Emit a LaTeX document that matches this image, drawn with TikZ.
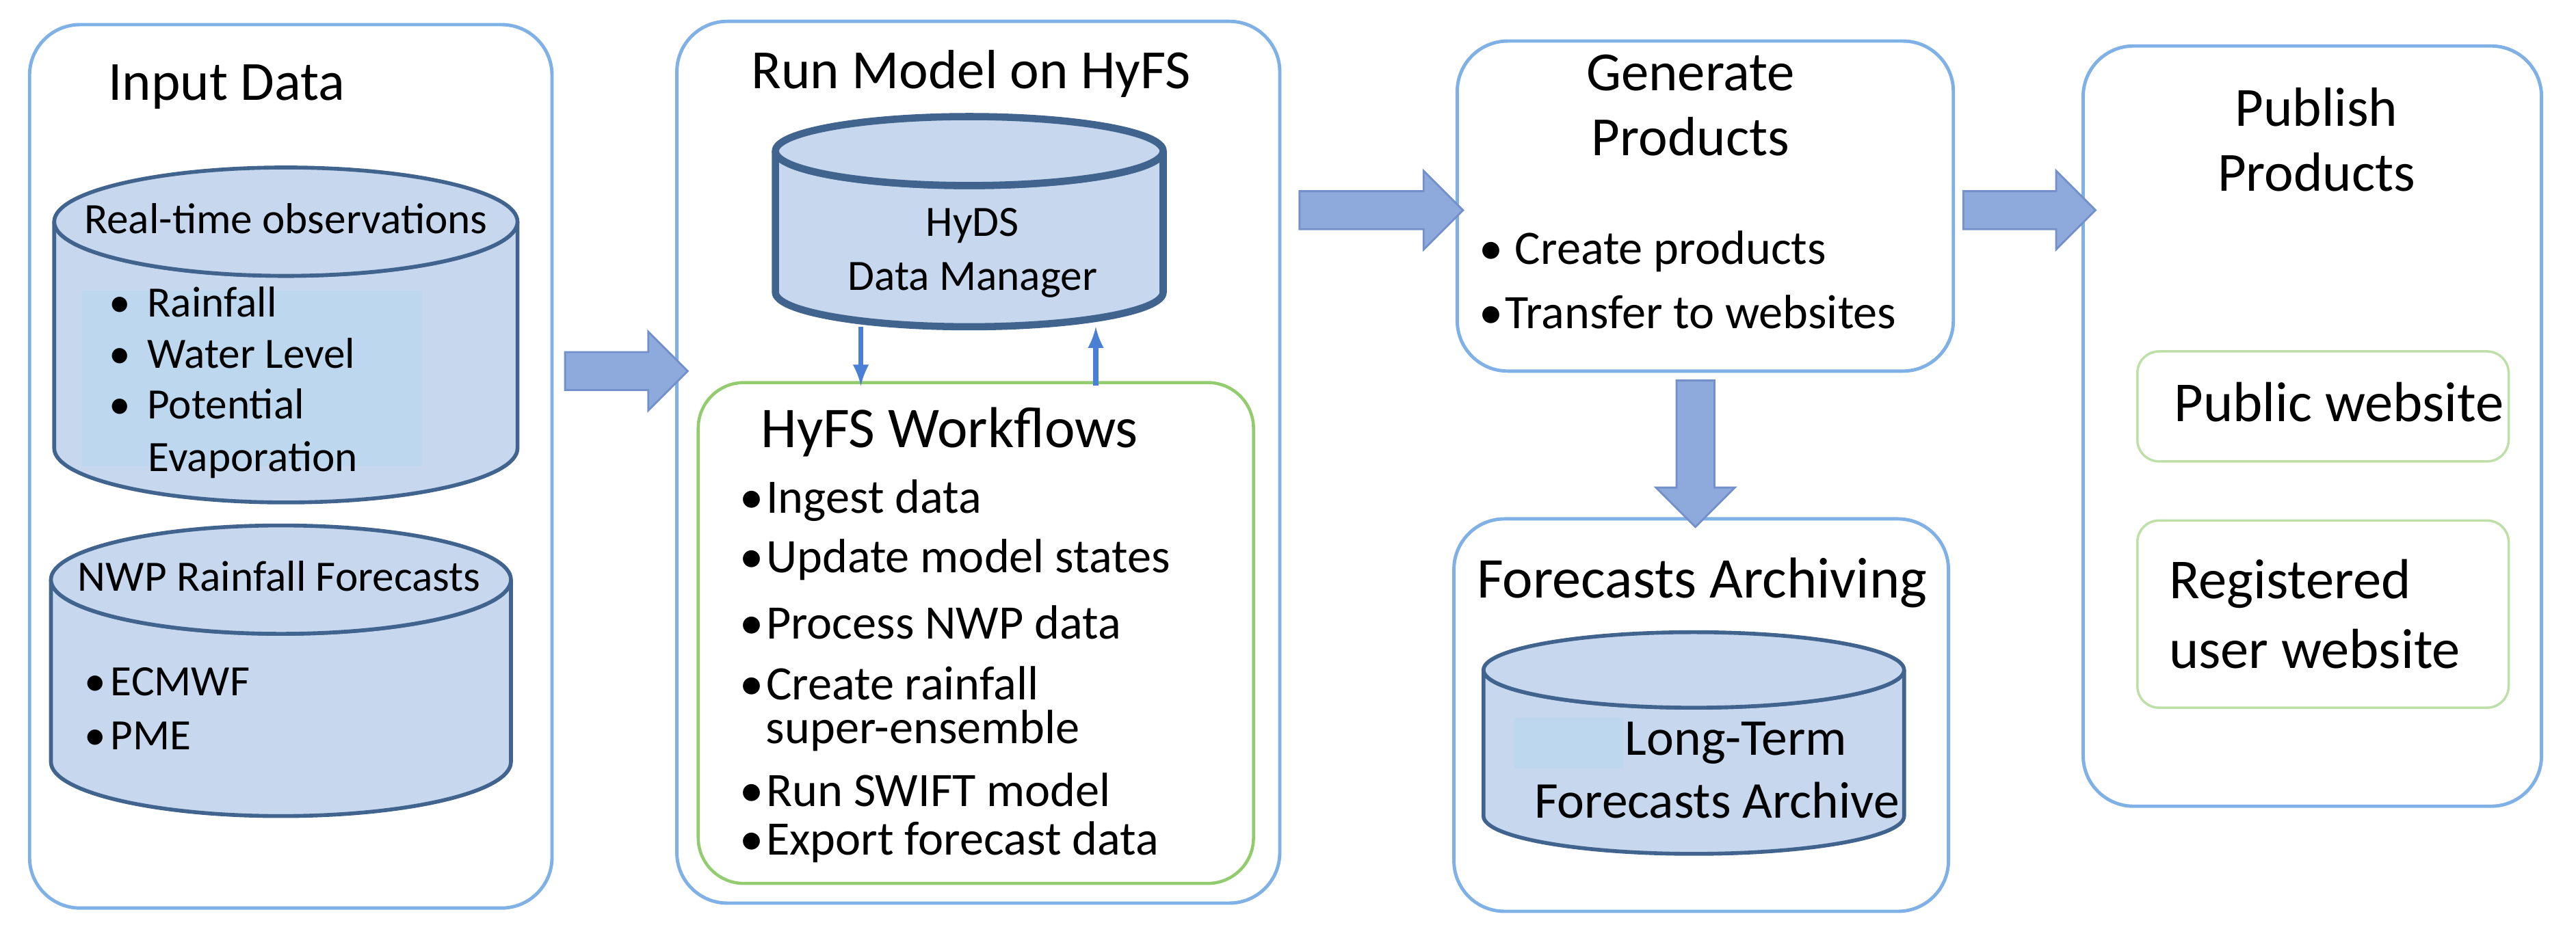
\documentclass[tikz,border=0pt]{standalone}
\usepackage{fontspec}
\setmainfont{Carlito}
\usetikzlibrary{arrows,positioning,shapes.arrows}
\definecolor{boxline}{HTML}{7FB0E6}
\definecolor{cylfill}{HTML}{C6D7EE}
\definecolor{shadefill}{HTML}{BDD7EE}
\definecolor{cylline}{HTML}{41648F}
\definecolor{arrfill}{HTML}{8EA9DB}
\definecolor{arrline}{HTML}{7390CB}
\definecolor{linkline}{HTML}{4A7FD6}
\definecolor{flowline}{HTML}{92CC6E}
\tikzset{
stage_box/.style={
	% outer stage panels
	draw=boxline, line width=1.4pt, rounded corners=21pt
},
flow_box/.style={draw=flowline, line width=1.3pt, rounded corners=19pt},
site_box/.style={draw=flowline!60, line width=1pt, rounded corners=9pt},
cyl/.style={draw=cylline, fill=cylfill, line width=1.6pt},
fat_arrow/.style={single arrow, draw=arrline, fill=arrfill, line width=0.8pt,
	minimum height=#1, single arrow head extend=8.5pt,
	inner xsep=0pt, inner ysep=7.5pt},
title/.style={font=\fontsize{23}{27}\selectfont, align=center},
item/.style={font=\fontsize{20}{24}\selectfont, anchor=west, align=left, inner sep=0pt},
small/.style={font=\fontsize{18}{22.5}\selectfont, align=center, inner sep=0pt}
}
\newcommand{\bul}[1]{\makebox[#1][l]{\textbullet}}
% database drum: centre x, top y, bottom y, half width, ellipse radius
\newcommand{\drum}[6][]{
	\draw[cyl,#1] (#2-#5,#3) -- (#2-#5,#4) arc[start angle=180,end angle=0,x radius=#5,y radius=#6]
		-- (#2+#5,#3) arc[start angle=0,end angle=180,x radius=#5,y radius=#6] -- cycle;
	\draw[cyl,#1] (#2,#3) ellipse[x radius=#5,y radius=#6];
}
\begin{document}
\begin{tikzpicture}[x=0.024018cm,y=-0.024018cm]
	\useasboundingbox (0,0) rectangle (1568,571);

	% stage panels
	\draw[stage_box] (18,15) rectangle (336,553);
	\draw[stage_box] (412,13) rectangle (779,550);
	\draw[stage_box] (887,25) rectangle (1189,226);
	\draw[stage_box] (885,316) rectangle (1186,555);
	\draw[stage_box] (1268,28) rectangle (1547,491);

	\node[title] (t_input) at (138,53) {Input Data};
	\node[title] (t_run) at (591,45) {Run Model on HyFS};
	\node[title] (t_gen) at (1029,64) {Generate\\Products};
	\node[title, font=\fontsize{24}{28}\selectfont] (t_arch) at (1036,355) {Forecasts Archiving};
	\node[title] (t_pub) at (1410,85) {Publish\\Products};

	% input drums
	\drum{174}{135}{273}{141}{33}
	\node[small] (obs) at (174,133) {Real-time observations};
	\fill[shadefill] (50,177) rectangle (257,284);
	\node[item, font=\fontsize{18}{22}\selectfont] (rain) at (66,184) {\bul{16pt}Rainfall};
	\node[item, font=\fontsize{18}{22}\selectfont] (wl) at (66,215) {\bul{16pt}Water Level};
	\node[item, font=\fontsize{18}{22}\selectfont] (pe) at (66,246) {\bul{16pt}Potential};
	\node[item, font=\fontsize{18}{22}\selectfont] (ev) at (90,280) {Evaporation};

	\drum{171}{353}{464}{140}{33}
	\node[small] (nwp) at (170,351) {NWP Rainfall Forecasts};
	\node[item, font=\fontsize{18}{22}\selectfont] (ec) at (51,415) {\bul{11pt}ECMWF};
	\node[item, font=\fontsize{18}{22}\selectfont] (pme) at (51,448) {\bul{11pt}PME};

	% HyDS drum
	\drum[line width=3pt]{590}{92}{178}{118}{21}
	\node[small] (hyds) at (592,154) {HyDS\\Data Manager};

	% workflows
	\draw[flow_box] (425,233) rectangle (763,538);
	\node[title, font=\fontsize{24}{28}\selectfont] (t_flow) at (578,263) {HyFS Workflows};
	\node[item] (w1) at (450,305) {\bul{11pt}Ingest data};
	\node[item] (w2) at (450,341) {\bul{11pt}Update model states};
	\node[item] (w3) at (450,379) {\bul{11pt}Process NWP data};
	\node[item] (w4) at (450,416) {\bul{11pt}Create rainfall};
	\node[item] (w4b) at (466,445) {super-ensemble};
	\node[item] (w5) at (450,481) {\bul{11pt}Run SWIFT model};
	\node[item] (w6) at (450,513) {\bul{11pt}Export forecast data};
	\coordinate (hd) at (524,199);
	\coordinate (fd) at (524,235);
	\coordinate (hu) at (667,199);
	\coordinate (fu) at (667,235);
	\draw[-latex, linkline, line width=2pt] (hd) -- (fd);
	\draw[-latex, linkline, line width=2pt] (fu) -- (hu);

	% products
	\node[item] (p1) at (900,153) {\bul{15pt}Create products};
	\node[item] (p2) at (900,190) {\bul{11pt}Transfer to websites};

	% archive
	\drum{1031}{408}{497}{128}{23}
	\fill[shadefill] (922,437) rectangle (988,468);
	\node[small, font=\fontsize{21.5}{26}\selectfont] (lt) at (1045,469) {\hspace*{16pt}Long-Term\\Forecasts Archive};

	% web sites
	\draw[site_box] (1301,214) rectangle (1527,281);
	\node[title, anchor=west, inner sep=0pt, font=\fontsize{23.5}{28}\selectfont] (pub) at (1323,245) {Public website};
	\draw[site_box] (1301,317) rectangle (1527,431);
	\node[title, anchor=west, inner sep=0pt, align=left, font=\fontsize{23.5}{29}\selectfont] (reg) at (1320,374) {Registered\\user website};

	% stage arrows
	\node[fat_arrow=51pt] (a1) at (375.5,226) {};
	\node[fat_arrow=68pt] (a2) at (835,128) {};
	\node[fat_arrow=55pt] (a3) at (1229.5,128) {};
	\node[fat_arrow=61pt, rotate=-90] (a4) at (1032,270.5) {};
\end{tikzpicture}
\end{document}
